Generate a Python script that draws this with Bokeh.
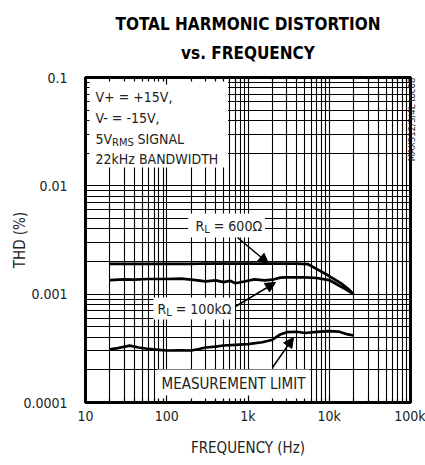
import math
from bokeh.plotting import figure
from bokeh.models import LogAxis, Label, Arrow, NormalHead, FixedTicker, Range1d, Title
from bokeh.embed import file_html
from bokeh.resources import INLINE

# ---------------- data (THD in %, frequency in Hz) ----------------
freq_600 = [20, 50, 100, 200, 300, 500, 1000, 2000, 3000, 4000, 5500, 7500, 10000, 14000, 17000, 20000]
thd_600 = [0.00190, 0.00190, 0.00190, 0.00190, 0.00192, 0.00191, 0.00191, 0.00191, 0.00191, 0.00191,
           0.00189, 0.00166, 0.00147, 0.00126, 0.00112, 0.00100]

freq_100k = [20, 30, 40, 60, 100, 150, 200, 300, 400, 500, 600, 700, 900, 1200, 1600, 2000, 2500,
             3000, 5000, 7000, 10000, 13000, 16000, 20000]
thd_100k = [0.00135, 0.00137, 0.00136, 0.00138, 0.00138, 0.00139, 0.00136, 0.00131, 0.00134, 0.00129,
            0.00133, 0.00126, 0.00131, 0.00137, 0.00134, 0.00136, 0.00142, 0.00143, 0.00143, 0.00141,
            0.00135, 0.00121, 0.00111, 0.00100]

freq_ml = [20, 25, 35, 45, 60, 80, 100, 150, 200, 250, 300, 400, 500, 700, 1000, 1500, 2000, 2500,
           3000, 4000, 5000, 7000, 10000, 13000, 17000, 20000]
thd_ml = [0.000310, 0.000318, 0.000335, 0.000322, 0.000312, 0.000306, 0.000302, 0.000303, 0.000302,
          0.000312, 0.000322, 0.000328, 0.000336, 0.000340, 0.000346, 0.000360, 0.000380, 0.000425,
          0.000446, 0.000450, 0.000438, 0.000448, 0.000455, 0.000452, 0.000425, 0.000415]

x_ticks = [10, 100, 1000, 10000, 100000]
x_tick_labels = ["10", "100", "1k", "10k", "100k"]
y_ticks = [0.0001, 0.001, 0.01, 0.1]
y_tick_labels = ["0.0001", "0.001", "0.01", "0.1"]

title_lines = ["TOTAL HARMONIC DISTORTION", "vs. FREQUENCY"]
x_label = "FREQUENCY (Hz)"
y_label = "THD (%)"
figure_code = "MAX312/3/4L toc08"

# ---------------- layout ----------------
FONT = "DejaVu Sans Condensed"
TXT = "#222222"
W, H = 425, 465
L, R, T, B = 85, 14, 77, 63
FW = W - L - R
FH = H - T - B

p = figure(width=W, height=H, x_axis_type="log", y_axis_type="log",
           x_range=Range1d(10, 1e5), y_range=Range1d(1e-4, 0.1),
           output_backend="svg", toolbar_location=None,
           min_border_left=L, min_border_right=R, min_border_top=T, min_border_bottom=B)
p.background_fill_color = "white"
p.border_fill_color = "white"
p.outline_line_color = "black"
p.outline_line_width = 3


def minor(decades):
    return [m * 10.0 ** d for d in decades for m in range(2, 10)]


def xd(px):
    return 10 ** (1 + 4 * px / FW)


def yd(py):
    return 10 ** (-4 + 3 * py / FH)


xt = FixedTicker(ticks=x_ticks, minor_ticks=minor(range(1, 5)))
yt = FixedTicker(ticks=y_ticks, minor_ticks=minor(range(-4, -1)))

tick_style = dict(major_tick_in=7, major_tick_out=0, minor_tick_in=4, minor_tick_out=0,
                  major_tick_line_width=1.2, minor_tick_line_width=1.2,
                  major_tick_line_color="black", minor_tick_line_color="black",
                  axis_line_width=3, axis_line_color="black")

xa = p.xaxis[0]
xa.ticker = xt
xa.major_label_overrides = {x_ticks[i]: x_tick_labels[i] for i in range(len(x_ticks))}
xa.major_label_text_font = FONT
xa.major_label_text_font_size = "14px"
xa.major_label_text_color = TXT
xa.major_label_standoff = 5
xa.axis_label = x_label
xa.axis_label_text_font = FONT
xa.axis_label_text_font_size = "15px"
xa.axis_label_text_font_style = "normal"
xa.axis_label_text_color = TXT
xa.axis_label_standoff = 12
for k, v in tick_style.items():
    setattr(xa, k, v)

ya = p.yaxis[0]
ya.ticker = yt
ya.major_label_overrides = {y_ticks[i]: y_tick_labels[i] for i in range(len(y_ticks))}
ya.major_label_text_font = FONT
ya.major_label_text_font_size = "14px"
ya.major_label_text_color = TXT
ya.major_label_standoff = 18
ya.axis_label = y_label
ya.axis_label_text_font = FONT
ya.axis_label_text_font_size = "15px"
ya.axis_label_text_font_style = "normal"
ya.axis_label_text_color = TXT
ya.axis_label_standoff = -9
for k, v in tick_style.items():
    setattr(ya, k, v)

# top axis: inward ticks, its label carries the second title line
top = LogAxis(ticker=xt, major_label_text_font_size="1px", major_label_text_alpha=0,
              major_label_standoff=0, axis_label=title_lines[1], axis_label_text_font=FONT,
              axis_label_text_font_size="17px", axis_label_text_font_style="bold",
              axis_label_text_color="black", axis_label_standoff=15, **tick_style)
p.add_layout(top, "above")
p.add_layout(Title(text=title_lines[0], align="center", text_font=FONT, text_font_size="17px",
                   text_font_style="bold", text_color="black", standoff=11), "above")

# right axis: inward ticks; its label is the figure code, reading upward near the top
# (the label starts at the middle of the edge; non-breaking spaces lift the visible text)
right = LogAxis(ticker=yt, major_label_text_font_size="1px", major_label_text_alpha=0,
                major_label_standoff=0, axis_label="\u00a0" * 29 + figure_code,
                axis_label_text_font=FONT, axis_label_text_font_size="9.5px",
                axis_label_text_font_style="normal", axis_label_text_color="#1a1a1a",
                axis_label_standoff=1, axis_label_orientation=math.pi / 2,
                axis_label_align="center", **tick_style)
p.add_layout(right, "right")

for g in (p.xgrid[0], p.ygrid[0]):
    g.grid_line_color = "black"
    g.grid_line_width = 1.1
    g.minor_grid_line_color = "black"
    g.minor_grid_line_width = 1.1
p.xgrid[0].ticker = xt
p.ygrid[0].ticker = yt

# white boxes behind annotation texts (frame pixel boxes: x0, x1, y0, y1, y up from bottom)
boxes = [(1.5, 143, 235, FH - 1.5), (103, 180, 165, 189), (68, 150, 83, 105), (72, 225, 1.5, 33)]
p.quad(left=[xd(b[0]) for b in boxes], right=[xd(b[1]) for b in boxes],
       bottom=[yd(b[2]) for b in boxes], top=[yd(b[3]) for b in boxes],
       fill_color="white", line_color=None)

# curves
for f, v in ((freq_600, thd_600), (freq_100k, thd_100k), (freq_ml, thd_ml)):
    p.line(f, v, line_color="black", line_width=2.7, line_join="round")


def lab(text, x, y, size="14px", **kw):
    opts = dict(text_font=FONT, text_font_size=size, text_baseline="middle", text_color=TXT)
    opts.update(kw)
    p.add_layout(Label(x=x, y=y, x_units="screen", y_units="screen", text=text, **opts))


# condition block
lab("V+ = +15V,", 10, 306)
lab("V- = -15V,", 10, 285)
lab("5V", 10, 264)
lab("RMS", 26.6, 260.5, size="11px")
lab("SIGNAL", 52, 264)
lab("22kHz BANDWIDTH", 10, 244)

# R_L = 600 ohm
lab("R", 110, 177)
lab("L", 118.8, 173.5, size="11px")
lab("= 600Ω", 128.3, 177)
# R_L = 100k ohm
lab("R", 72, 94)
lab("L", 80.8, 90.5, size="11px")
lab("= 100kΩ", 90.3, 94)
# measurement limit
lab("MEASUREMENT LIMIT", 76, 19, size="15px")

# arrows
for xs, ys, xe, ye in ((152, 165, 183, 139), (150, 96, 190, 120), (187, 35, 208, 65)):
    p.add_layout(Arrow(end=NormalHead(size=10, fill_color="black", line_color="black", line_width=1),
                       x_start=xs, y_start=ys, x_end=xe, y_end=ye,
                       start_units="screen", end_units="screen",
                       line_color="black", line_width=1.5))

open("out.html", "w").write(file_html(p, INLINE))
